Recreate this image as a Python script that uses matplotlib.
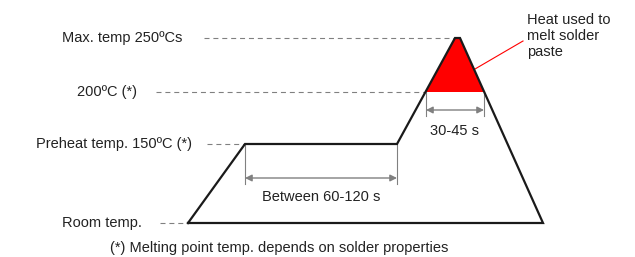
import matplotlib
matplotlib.use("Agg")
import matplotlib.pyplot as plt
from matplotlib.patches import Polygon

plt.rcParams['font.family'] = ['Liberation Sans', 'DejaVu Sans']

# Schematic profile (figure pixel coordinates, y downward)
profile_x = [188, 245, 397, 455, 460, 543, 188]
profile_y = [223, 144, 144, 38, 38, 223, 223]

red_x = [426, 455, 460, 484]
red_y = [92, 38, 38, 92]

level_labels = ["Max. temp 250ºCs", "200ºC (*)", "Preheat temp. 150ºC (*)", "Room temp."]
level_y = [38, 92, 144, 223]
level_label_x = [182, 137, 192, 142]
level_dash_start = [204, 156, 207, 160]
level_dash_end = [455, 426, 245, 188]

preheat_span = [245, 397]
peak_span = [426, 484]
preheat_label = "Between 60-120 s"
peak_label = "30-45 s"
heat_label = "Heat used to\nmelt solder\npaste"
footnote = "(*) Melting point temp. depends on solder properties"

fig = plt.figure(figsize=(6.35, 2.57), dpi=100)
ax = fig.add_axes([0, 0, 1, 1])
ax.set_xlim(0, 635)
ax.set_ylim(257, 0)
ax.axis('off')

fs = 10.5
gray = '#808080'
tc = '#222222'

# dashed level lines and labels
for lab, y, lx, x0, x1 in zip(level_labels, level_y, level_label_x, level_dash_start, level_dash_end):
    ax.plot([x0, x1], [y, y], color=gray, lw=0.8, dashes=(4.5, 3.5))
    ax.text(lx, y, lab, ha='right', va='center', fontsize=fs, color=tc)

# red area
ax.add_patch(Polygon(list(zip(red_x, red_y)), closed=True, facecolor='#ff0000', edgecolor='none', zorder=2))

# profile
ax.plot(profile_x, profile_y, color='#1a1a1a', lw=1.6, solid_joinstyle='miter', zorder=3)

# preheat duration arrow
for x in preheat_span:
    ax.plot([x, x], [144, 184], color=gray, lw=0.8)
ax.annotate('', xy=(preheat_span[0], 178), xytext=(preheat_span[1], 178),
            arrowprops=dict(arrowstyle='<|-|>', color=gray, lw=1.0, mutation_scale=10, shrinkA=0, shrinkB=0))
ax.text(sum(preheat_span) / 2, 197, preheat_label, ha='center', va='center', fontsize=fs, color=tc)

# peak duration arrow
for x in peak_span:
    ax.plot([x, x], [92, 116], color=gray, lw=0.8)
ax.annotate('', xy=(peak_span[0], 110), xytext=(peak_span[1], 110),
            arrowprops=dict(arrowstyle='<|-|>', color=gray, lw=1.0, mutation_scale=10, shrinkA=0, shrinkB=0))
ax.text(455, 131, peak_label, ha='center', va='center', fontsize=fs, color=tc)

# heat leader line
ax.plot([475, 523], [69, 41], color='#ff0000', lw=0.8)
ax.text(527, 36, heat_label, ha='left', va='center', fontsize=fs, color=tc, linespacing=1.18)

ax.text(110, 248, footnote, ha='left', va='center', fontsize=fs, color=tc)

fig.savefig('out.png', dpi=100)
